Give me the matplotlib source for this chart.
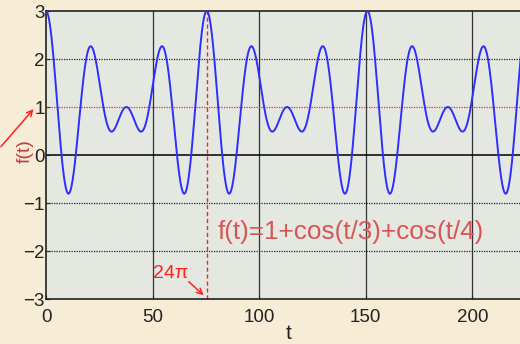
import numpy as np
import matplotlib.pyplot as plt

# f(t) = offset + cos(t/a) + cos(t/b), as printed on the chart
offset = 1.0
div_a = 3.0
div_b = 4.0
t_max = 228
period = 24 * np.pi

x_ticks = [0, 50, 100, 150, 200]
y_ticks = [-3, -2, -1, 0, 1, 2, 3]

t = np.linspace(0, t_max, 2000)
f = offset + np.cos(t / div_a) + np.cos(t / div_b)

plt.rcParams['font.family'] = ['Liberation Sans', 'DejaVu Sans']

fig = plt.figure(figsize=(5.2, 3.44), dpi=100, facecolor='#f7ecd6')
# right edge of the axes runs off the picture
ax = fig.add_axes([46 / 520, (344 - 299) / 344, (532 - 46) / 520, 288 / 344])
ax.set_facecolor('#e4e8e1')

ax.set_xlim(0, t_max)
ax.set_ylim(-3, 3)
ax.set_xticks(x_ticks)
ax.set_yticks(y_ticks)
ax.tick_params(labelsize=13.5, length=3, direction='in', colors='#222222')
ax.tick_params(axis='x', pad=7)
ax.tick_params(axis='y', pad=1)

for xv in x_ticks[1:]:
    ax.axvline(xv, color='#333333', lw=0.9, zorder=1)
for yv in [2, -1, -2]:
    ax.axhline(yv, color='#222222', lw=0.9, ls=(0, (1, 1)), zorder=1)
ax.axhline(0, color='black', lw=1.1, zorder=1)
ax.axhline(offset, color='#ff2020', lw=0.9, ls=(0, (1, 1)), zorder=2)
ax.axvline(period, color='#ff2020', lw=1.0, ls=(0, (3, 2)), zorder=2)

ax.plot(t, f, color='#2e2eff', lw=1.4, zorder=3)

for s in ax.spines.values():
    s.set_color('#222222')
    s.set_linewidth(1.2)

ax.set_xlabel('t', fontsize=15, color='#222222', labelpad=-1)
ax.set_ylabel('f(t)', fontsize=14, color='#c04040')
ax.yaxis.set_label_coords(-0.026, 0.514)

ax.text(80.5, -1.6, 'f(t)=1+cos(t/3)+cos(t/4)', fontsize=18.8, color='#d85555',
        va='center')
ax.text(50.2, -2.46, '24\u03c0', fontsize=14, color='#ff2020', va='center')
ax.annotate('', xy=(period - 0.5, -2.96), xytext=(66, -2.6),
            arrowprops=dict(arrowstyle='->', color='#ff2020', lw=1.1))
ax.annotate('', xy=(-5, 1.0), xytext=(-22, 0.13),
            arrowprops=dict(arrowstyle='->', color='#ff2020', lw=1.1),
            annotation_clip=False)

fig.savefig('out.png', dpi=100, facecolor=fig.get_facecolor())
